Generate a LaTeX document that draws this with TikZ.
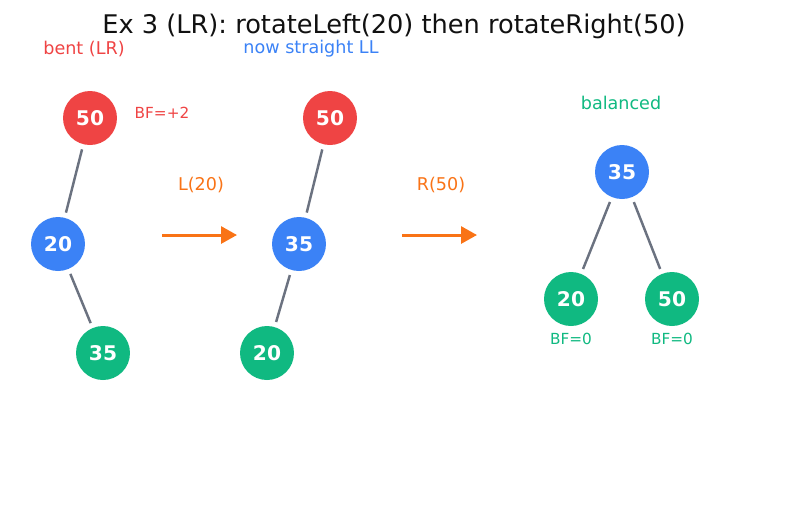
\documentclass[tikz,border=0pt]{standalone}
\usepackage{fontspec}
\setmainfont{DejaVu Sans}
\usepackage{tikz}
\usetikzlibrary{arrows.meta, positioning}
\definecolor{myred}{HTML}{EF4444}
\definecolor{myblue}{HTML}{3B82F6}
\definecolor{mygreen}{HTML}{10B981}
\definecolor{myorange}{HTML}{F97316}
\definecolor{mygray}{HTML}{6B7280}
\definecolor{mydark}{HTML}{111111}
\tikzset{
  tnode/.style={circle, minimum size=1.08cm, inner sep=0pt,
    text=white, font=\fontsize{11.5}{13}\selectfont\bfseries},
  rednode/.style={tnode, fill=myred},
  bluenode/.style={tnode, fill=myblue},
  greennode/.style={tnode, fill=mygreen},
  edge/.style={line width=1.4pt, color=mygray, shorten >=0.1cm, shorten <=0.1cm},
  rotarrow/.style={-{Triangle[length=0.32cm, width=0.34cm]}, line width=1.7pt, color=myorange},
  lbl/.style={font=\fontsize{10}{12}\selectfont},
  bflbl/.style={font=\fontsize{8.7}{10}\selectfont}
}

\begin{document}
\begin{tikzpicture}[x=0.02cm, y=-0.02cm]
  \useasboundingbox (0,0) rectangle (787,512);

  % Title
  \node[text=mydark, font=\fontsize{14.6}{17}\selectfont] (title) at (394,26)
    {Ex 3 (LR): rotateLeft(20) then rotateRight(50)};

  % Tree 1: bent
  \node[lbl, text=myred] (bent) at (84,49) {bent (LR)};
  \node[rednode] (a50) at (90,118) {50};
  \node[bluenode] (a20) at (58,244) {20};
  \node[greennode] (a35) at (103,353) {35};
  \node[bflbl, text=myred] (bfa) at (162,113) {BF=+2};
  \draw[edge] (a50) -- (a20);
  \draw[edge] (a20) -- (a35);

  % Rotation L(20)
  \coordinate (l1) at (162,235);
  \coordinate (l2) at (237,235);
  \node[lbl, text=myorange] (rotl) at (201,185) {L(20)};
  \draw[rotarrow] (l1) -- (l2);

  % Tree 2: straight
  \node[lbl, text=myblue] (straight) at (311,49) {now straight LL};
  \node[rednode] (b50) at (330,118) {50};
  \node[bluenode] (b35) at (299,244) {35};
  \node[greennode] (b20) at (267,353) {20};
  \draw[edge] (b50) -- (b35);
  \draw[edge] (b35) -- (b20);

  % Rotation R(50)
  \coordinate (r1) at (402,235);
  \coordinate (r2) at (477,235);
  \node[lbl, text=myorange] (rotr) at (441,185) {R(50)};
  \draw[rotarrow] (r1) -- (r2);

  % Tree 3: balanced
  \node[lbl, text=mygreen] (bal) at (621,103) {balanced};
  \node[bluenode] (c35) at (622,172) {35};
  \node[greennode] (c20) at (571,299) {20};
  \node[greennode] (c50) at (672,299) {50};
  \node[bflbl, text=mygreen] (bfc20) at (571,339) {BF=0};
  \node[bflbl, text=mygreen] (bfc50) at (672,339) {BF=0};
  \draw[edge] (c35) -- (c20);
  \draw[edge] (c35) -- (c50);
\end{tikzpicture}
\end{document}
